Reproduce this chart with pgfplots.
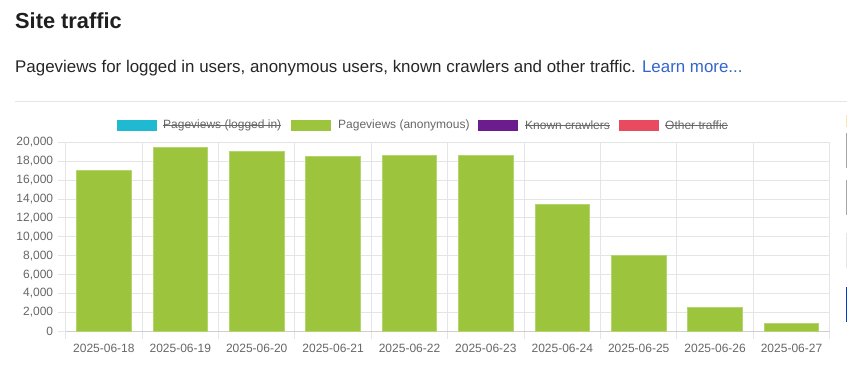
\documentclass[border=0pt]{standalone}
\usepackage{pgfplots}
\pgfplotsset{compat=1.18}
\usepackage{fontspec}
\setmainfont{Liberation Sans}
\definecolor{txt}{HTML}{666666}
\definecolor{gridc}{HTML}{E5E5E5}
\definecolor{axc}{HTML}{CFCFCF}
\definecolor{barg}{HTML}{9CC53D}
\definecolor{barb}{HTML}{B3D46E}
\definecolor{cyanc}{HTML}{1FB9D1}
\definecolor{purp}{HTML}{6D1C8E}
\definecolor{redc}{HTML}{E84A5F}
\definecolor{link}{HTML}{3366CC}
\begin{document}
\begin{tikzpicture}[x=1pt,y=1pt]
\useasboundingbox (0,0) rectangle (847,368);
% header
\node[anchor=base west, inner sep=0, font=\fontsize{21.8}{24}\selectfont\bfseries, text=black!88] at (15,340) {Site traffic};
\node[anchor=base west, inner sep=0, font=\fontsize{16.9}{19}\selectfont, text=black!85] at (15,296) {Pageviews for logged in users, anonymous users, known crawlers and other traffic. \textcolor{link}{Learn more...}};
\draw[gridc, line width=1] (15,267) -- (847,267);
% cropped side widgets at the right edge
\fill[yellow!40!orange!30] (845.5,241) rectangle (847,253);
\fill[black!35] (845.5,200) rectangle (847,235);
\fill[black!35] (845.5,153) rectangle (847,188);
\fill[black!10] (845.5,100) rectangle (847,135);
\fill[blue!70!cyan!80!black] (845.5,46) rectangle (847,81);
% legend
\begin{scope}[font=\fontsize{12}{14}\selectfont]
\fill[cyanc] (117,237) rectangle (157,248);
\node[anchor=west, inner sep=0, text=txt] (l1) at (163,242.5) {Pageviews (logged in)};
\draw[txt, line width=0.9] ([yshift=0.5]l1.west) -- ([yshift=0.5]l1.east);
\fill[barg] (291,237) rectangle (331,248);
\node[anchor=west, inner sep=0, text=txt] at (338,242.5) {Pageviews (anonymous)};
\fill[purp] (478,237) rectangle (518,248);
\node[anchor=west, inner sep=0, text=txt] (l3) at (525,242.5) {Known crawlers};
\draw[txt, line width=0.9] ([yshift=0.5]l3.west) -- ([yshift=0.5]l3.east);
\fill[redc] (619,237) rectangle (659,248);
\node[anchor=west, inner sep=0, text=txt] (l4) at (665,242.5) {Other traffic};
\draw[txt, line width=0.9] ([yshift=0.5]l4.west) -- ([yshift=0.5]l4.east);
\end{scope}
\begin{axis}[
  at={(86,39)}, anchor=south west,
  scale only axis, width=764pt, height=188.7pt,
  xmin=-0.5, xmax=9.5, ymin=0, ymax=20000,
  ybar, bar width=54.6pt,
  xtick={0,...,9},
  xticklabels={2025-06-18,2025-06-19,2025-06-20,2025-06-21,2025-06-22,2025-06-23,2025-06-24,2025-06-25,2025-06-26,2025-06-27},
  minor xtick={-0.5,0.5,...,9.5},
  ytick={0,2000,...,20000},
  tick align=outside,
  major tick length=8pt, minor tick length=8pt,
  major x tick style={draw=none},
  minor x tick style={gridc, line width=1},
  y tick style={gridc, line width=1},
  xminorgrids=true, ymajorgrids=true,
  grid style={gridc, line width=1},
  minor grid style={gridc, line width=1},
  axis x line*=bottom, axis y line*=left,
  x axis line style={axc, line width=1, -},
  y axis line style={gridc, line width=1, -},
  tick label style={font=\fontsize{12}{14}\selectfont, text=txt},
  /pgf/number format/assume math mode=true,
  /pgf/number format/1000 sep={,},
  scaled y ticks=false,
  yticklabel style={xshift=-1pt},
  xticklabel style={yshift=-1pt},
]
\addplot[fill=barg, draw=barb, line width=0.8] coordinates {
(0,17000) (1,19450) (2,19050) (3,18550) (4,18650) (5,18600) (6,13400) (7,8050) (8,2550) (9,850)};
\end{axis}
\end{tikzpicture}
\end{document}
